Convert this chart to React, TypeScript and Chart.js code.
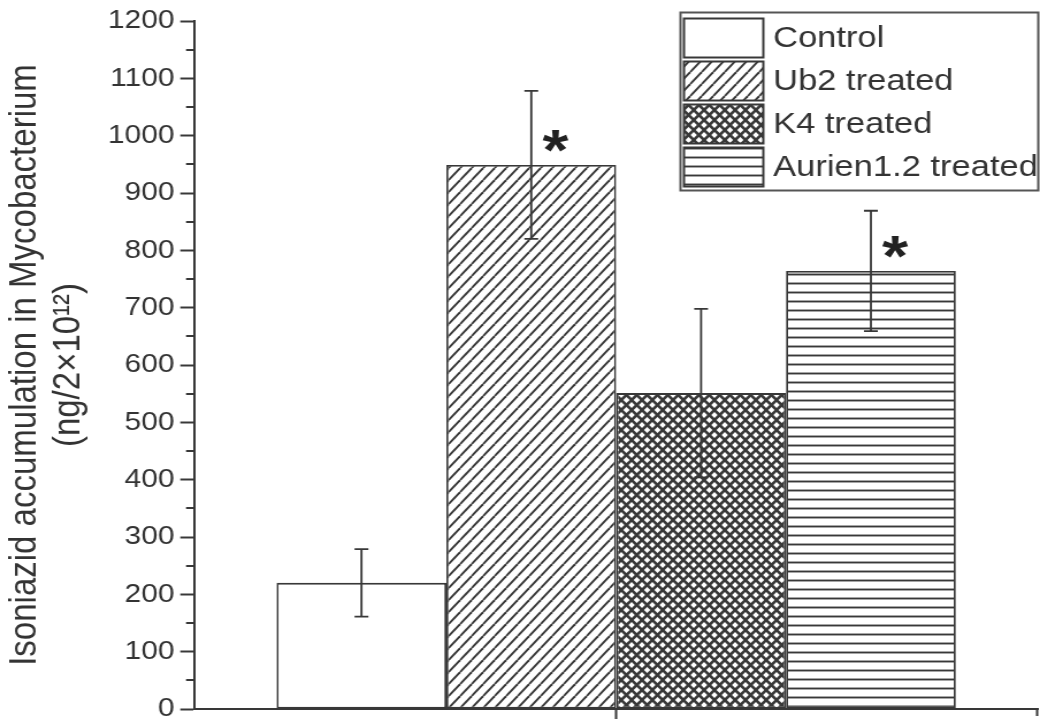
import React, { useEffect, useRef } from 'react';
import { Chart, registerables } from 'chart.js';

Chart.register(...registerables);

// Isoniazid accumulation per treatment group (mean ± error)
const groups = ['Control', 'Ub2 treated', 'K4 treated', 'Aurien1.2 treated'];
const means = [220, 949, 551, 764];
const errors = [59, 129, 147, 105];
const significant = [false, true, false, true];
const categories = [''];
const yTitle = ['Isoniazid accumulation in Mycobacterium', '(ng/2×10¹²)'];

// The drawing surface is rendered narrower and stretched horizontally on screen.
const CANVAS_W = 904;
const CANVAS_H = 719;
const SCREEN_W = 1040;

const INK = '#383838';
const TEXT = '#333333';
const FONT = '"Liberation Sans", Arial, sans-serif';

type TileDraw = (g: CanvasRenderingContext2D, w: number, h: number) => void;

function makePattern(ctx: CanvasRenderingContext2D, w: number, h: number, draw: TileDraw): CanvasPattern | string {
  const c = document.createElement('canvas');
  c.width = w;
  c.height = h;
  const g = c.getContext('2d');
  if (!g) return '#ffffff';
  g.fillStyle = '#ffffff';
  g.fillRect(0, 0, w, h);
  g.strokeStyle = INK;
  draw(g, w, h);
  return ctx.createPattern(c, 'repeat') || '#ffffff';
}

const forwardLines = (lw: number): TileDraw => (g, w, h) => {
  g.lineWidth = lw;
  for (const k of [-1, 0, 1]) {
    g.beginPath();
    g.moveTo(k * w, h);
    g.lineTo((k + 1) * w, 0);
    g.stroke();
  }
};

const crossLines = (lw: number): TileDraw => (g, w, h) => {
  g.lineWidth = lw;
  for (const k of [-1, 0, 1]) {
    g.beginPath();
    g.moveTo(k * w, h);
    g.lineTo((k + 1) * w, 0);
    g.stroke();
    g.beginPath();
    g.moveTo(k * w, 0);
    g.lineTo((k + 1) * w, h);
    g.stroke();
  }
};

const horizontalLines = (lw: number): TileDraw => (g, w, h) => {
  g.lineWidth = lw;
  g.beginPath();
  g.moveTo(0, h / 2);
  g.lineTo(w, h / 2);
  g.stroke();
};

// error bars and significance asterisks
const errorBarPlugin = {
  id: 'errorBars',
  afterDatasetsDraw(chart: any) {
    const ctx: CanvasRenderingContext2D = chart.ctx;
    const y = chart.scales.y;
    ctx.save();
    ctx.strokeStyle = INK;
    ctx.lineWidth = 1.8;
    chart.data.datasets.forEach((_ds: any, i: number) => {
      const bar = chart.getDatasetMeta(i).data[0];
      if (!bar) return;
      const x = bar.x;
      const top = y.getPixelForValue(means[i] + errors[i]);
      const bottom = y.getPixelForValue(means[i] - errors[i]);
      const cap = 6;
      ctx.beginPath();
      ctx.moveTo(x, top);
      ctx.lineTo(x, bottom);
      ctx.moveTo(x - cap, top);
      ctx.lineTo(x + cap, top);
      ctx.moveTo(x - cap, bottom);
      ctx.lineTo(x + cap, bottom);
      ctx.stroke();
      if (significant[i]) {
        const size = 58;
        ctx.fillStyle = '#222';
        ctx.font = `bold ${size}px ${FONT}`;
        ctx.textAlign = 'center';
        ctx.textBaseline = 'alphabetic';
        const cy = y.getPixelForValue(means[i] + 45);
        ctx.fillText('*', x + 21, cy + 0.525 * size);
      }
    });
    ctx.restore();
  },
};

// minor ticks on the value axis and the closing tick of the category axis
const minorTickPlugin = {
  id: 'minorTicks',
  afterDraw(chart: any) {
    const ctx: CanvasRenderingContext2D = chart.ctx;
    const y = chart.scales.y;
    const area = chart.chartArea;
    ctx.save();
    ctx.strokeStyle = INK;
    ctx.lineWidth = 2;
    ctx.beginPath();
    for (let v = 50; v < 1200; v += 100) {
      const py = Math.round(y.getPixelForValue(v));
      ctx.moveTo(area.left - 7, py);
      ctx.lineTo(area.left, py);
    }
    ctx.moveTo(area.right - 1, area.bottom);
    ctx.lineTo(area.right - 1, area.bottom + 7);
    ctx.stroke();
    ctx.restore();
  },
};

// framed legend in the upper right corner
const boxLegendPlugin = {
  id: 'boxLegend',
  afterDraw(chart: any) {
    const ctx: CanvasRenderingContext2D = chart.ctx;
    const datasets = chart.data.datasets;
    const boxLeft = 591.5;
    const boxTop = 12.5;
    const boxRight = 902.5;
    const boxBottom = 190.5;
    const swLeft = 594.5;
    const swW = 69;
    const swH = 39;
    const rowTop = 17.5;
    const pitch = 43.3;
    ctx.save();
    ctx.strokeStyle = '#555';
    ctx.lineWidth = 2;
    ctx.strokeRect(boxLeft, boxTop, boxRight - boxLeft, boxBottom - boxTop);
    datasets.forEach((ds: any, i: number) => {
      const top = Math.round(rowTop + i * pitch) + 0.5;
      ctx.fillStyle = ds.backgroundColor;
      ctx.fillRect(swLeft, top, swW, swH);
      ctx.strokeStyle = INK;
      ctx.lineWidth = 2;
      ctx.strokeRect(swLeft, top, swW, swH);
      ctx.fillStyle = TEXT;
      ctx.font = `30px ${FONT}`;
      ctx.textAlign = 'left';
      ctx.textBaseline = 'middle';
      ctx.fillText(ds.label, 672, top + swH / 2 + 1);
    });
    ctx.restore();
  },
};

export default function App() {
  const canvasRef = useRef<HTMLCanvasElement | null>(null);

  useEffect(() => {
    const canvas = canvasRef.current;
    if (!canvas) return;
    const ctx = canvas.getContext('2d');
    if (!ctx) return;

    const fills = [
      '#ffffff',
      makePattern(ctx, 10, 12, forwardLines(1.9)),
      makePattern(ctx, 9, 10, crossLines(2.6)),
      makePattern(ctx, 4, 9, horizontalLines(1.9)),
    ];

    const chart = new Chart(ctx, {
      type: 'bar',
      data: {
        labels: categories,
        datasets: groups.map((g, i) => ({
          label: g,
          data: [means[i]],
          backgroundColor: fills[i] as any,
          borderColor: INK,
          borderWidth: 1.8,
          borderSkipped: false,
          categoryPercentage: 0.8046,
          barPercentage: 1,
        })),
      },
      options: {
        responsive: false,
        animation: false,
        devicePixelRatio: 1,
        layout: { padding: { top: 21, right: 1.5, left: 0, bottom: 0 } },
        font: { family: FONT },
        plugins: {
          legend: { display: false },
          tooltip: { enabled: false },
        },
        scales: {
          x: {
            type: 'category',
            offset: true,
            grid: {
              display: true,
              drawOnChartArea: false,
              drawTicks: true,
              tickLength: 10,
              offset: false,
              tickColor: INK,
              tickWidth: 2,
            },
            border: { display: true, color: INK, width: 2 },
            ticks: { display: false },
            afterFit: (s: any) => {
              s.height = 10;
              s.paddingLeft = 0;
              s.paddingRight = 0;
            },
          },
          y: {
            min: 0,
            max: 1200,
            grid: {
              display: true,
              drawOnChartArea: false,
              drawTicks: true,
              tickLength: 12,
              tickWidth: 2,
              tickColor: (c: any) => (c.tick && c.tick.value % 100 === 0 ? INK : 'rgba(0,0,0,0)'),
            },
            border: { display: true, color: INK, width: 2 },
            ticks: {
              stepSize: 50,
              autoSkip: false,
              padding: 5,
              color: TEXT,
              font: { family: FONT, size: 26 },
              callback: (v: any) => (Number(v) % 100 === 0 ? String(v) : ''),
            },
            title: {
              display: true,
              text: yTitle,
              color: TEXT,
              font: { family: FONT, size: 33, lineHeight: 1.14 },
              padding: { top: 3, bottom: 0 },
            },
            afterFit: (s: any) => {
              s.width = 168.7;
              s.paddingTop = 0;
              s.paddingBottom = 0;
            },
          },
        },
      },
      plugins: [errorBarPlugin, minorTickPlugin, boxLegendPlugin],
    });

    return () => {
      chart.destroy();
    };
  }, []);

  return (
    <div style={{ position: 'absolute', left: 0, top: 0, width: SCREEN_W, height: CANVAS_H, background: '#ffffff' }}>
      <canvas
        ref={canvasRef}
        width={CANVAS_W}
        height={CANVAS_H}
        style={{ width: `${SCREEN_W}px`, height: `${CANVAS_H}px`, display: 'block' }}
      />
    </div>
  );
}
